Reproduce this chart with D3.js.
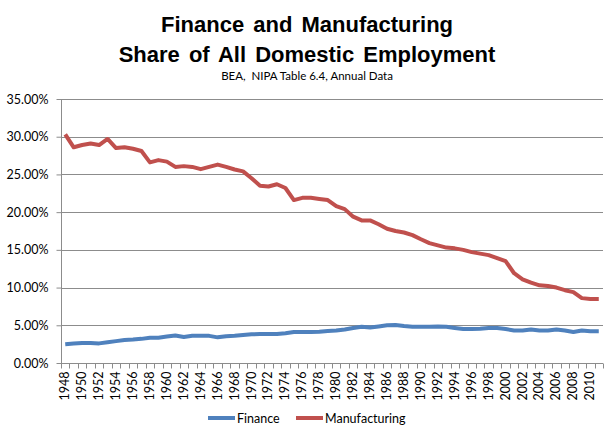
<!DOCTYPE html>
<html><head><meta charset="utf-8">
<script src="https://cdn.jsdelivr.net/npm/d3@7"></script>
<style>html,body{margin:0;padding:0;background:#fff;}svg{display:block;}</style>
</head><body>
<script>
const years = d3.range(1948, 2012);
const finance = [2.5,2.6,2.65,2.65,2.6,2.75,2.9,3.05,3.1,3.2,3.35,3.35,3.5,3.65,3.45,3.6,3.6,3.6,3.4,3.55,3.6,3.7,3.8,3.85,3.85,3.85,3.95,4.1,4.1,4.1,4.15,4.25,
  4.3,4.45,4.65,4.8,4.7,4.85,5.0,5.05,4.9,4.8,4.8,4.8,4.85,4.8,4.65,4.5,4.5,4.55,4.65,4.65,4.5,4.3,4.3,4.45,4.3,4.3,4.45,4.3,4.1,4.3,4.2,4.2];
const manufacturing = [30.3,28.6,28.9,29.1,28.9,29.7,28.5,28.6,28.4,28.1,26.6,26.9,26.7,26.0,26.1,26.0,25.7,26.0,26.3,26.0,25.65,25.4,24.5,23.5,23.4,23.7,23.2,21.6,21.9,21.9,21.75,21.6,
  20.8,20.4,19.4,18.9,18.9,18.4,17.8,17.5,17.3,16.95,16.4,15.9,15.6,15.3,15.2,15.0,14.7,14.5,14.3,13.9,13.5,11.9,11.1,10.65,10.3,10.2,10.0,9.65,9.4,8.6,8.5,8.5];
const yTicks = [0,5,10,15,20,25,30,35];
const xLabels = years.filter(yr => (yr - 1948) % 2 === 0);
const seriesNames = ["Finance", "Manufacturing"];
const colors = ["#4F81BD", "#C0504D"];
const titleLines = ["Finance and Manufacturing", "Share of All Domestic Employment"];
const subtitle = "BEA,  NIPA Table 6.4, Annual Data";

(function(){
const W = 615, H = 437;
const svg = d3.select("body").append("svg").attr("width", W).attr("height", H);
const pL = 61, pR = 603, pT = 99, pB = 363;

const x = d3.scaleBand().domain(years).range([pL, pR]);
const y = d3.scaleLinear().domain([0, 35]).range([pB, pT]);
const font = "Lato, 'Open Sans', sans-serif";

// titles
svg.selectAll("text.title").data(titleLines).enter().append("text")
  .attr("class","title")
  .attr("x", 307).attr("y", (d,i) => 32 + i*30)
  .attr("text-anchor","middle")
  .style("font-family","'Liberation Sans', Arial, sans-serif")
  .style("font-weight","bold").style("font-size","22px")
  .style("word-spacing","3px")
  .text(d => d);
svg.append("text").attr("x", 307).attr("y", 80).attr("text-anchor","middle")
  .style("font-family", font).style("font-size","11.5px").style("white-space","pre")
  .text(subtitle);

// grid
svg.append("g").selectAll("line").data(yTicks.filter(t => t > 0)).enter().append("line")
  .attr("x1", pL).attr("x2", pR)
  .attr("y1", d => Math.round(y(d)) + 0.5).attr("y2", d => Math.round(y(d)) + 0.5)
  .attr("stroke", "#8c8c8c").attr("stroke-width", 1);

// y axis
const yAxis = d3.axisLeft(y).tickValues(yTicks).tickSize(5).tickPadding(8)
  .tickFormat(d => d.toFixed(2) + "%");
const gy = svg.append("g").attr("transform", `translate(${pL + 0.5},0)`).call(yAxis);
gy.select(".domain").attr("stroke", "#8c8c8c").attr("d", `M0,${pT}V${pB}`);
gy.selectAll(".tick line").attr("stroke", "#8c8c8c");
gy.selectAll(".tick text").style("font-family", font).style("font-size","12.5px").attr("fill","#000");

// x axis
const gx = svg.append("g").attr("transform", `translate(0,${Math.round(pB) + 0.5})`);
gx.append("line").attr("x1", pL).attr("x2", pR).attr("stroke", "#8c8c8c");
const bounds = years.map(yr => x(yr)).concat([pR]);
gx.selectAll("line.tk").data(bounds).enter().append("line").attr("class","tk")
  .attr("x1", d => Math.round(d) + 0.5).attr("x2", d => Math.round(d) + 0.5)
  .attr("y1", 0).attr("y2", 5).attr("stroke", "#8c8c8c");
gx.selectAll("text").data(xLabels).enter().append("text")
  .attr("transform", d => `translate(${x(d) + x.bandwidth()/2 + 4},8) rotate(-90)`)
  .attr("text-anchor", "end")
  .style("font-family", font).style("font-size","12.5px")
  .text(d => d);

// lines
const line = d3.line().x((d,i) => x(years[i]) + x.bandwidth()/2).y(d => y(d));
[finance, manufacturing].forEach((s, k) => {
  svg.append("path").datum(s).attr("d", line).attr("fill","none")
    .attr("stroke", colors[k]).attr("stroke-width", 4).attr("stroke-linejoin","round");
});

// legend
const legX = [208, 296];
seriesNames.forEach((n, k) => {
  svg.append("line").attr("x1", legX[k]).attr("x2", legX[k] + 27).attr("y1", 418).attr("y2", 418)
    .attr("stroke", colors[k]).attr("stroke-width", 4);
  svg.append("text").attr("x", legX[k] + 29).attr("y", 422.5)
    .style("font-family", font).style("font-size","12.5px").text(n);
});
})();
</script>
</body></html>
